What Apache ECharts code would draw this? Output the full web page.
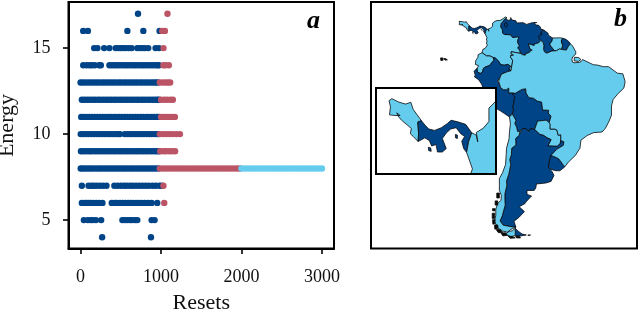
<!DOCTYPE html>
<html><head><meta charset="utf-8">
<style>html,body{margin:0;padding:0;background:#fff}#c{width:640px;height:311px}</style>
<script src="https://cdn.jsdelivr.net/npm/echarts@6/dist/echarts.min.js"></script>
</head><body><div id="c"></div>
<script>
// ---------- Panel a: values ----------
const energies = [4,5,6,7,8,9,10,11,12,13,14,15,16,17];
const xTickValues = [0,1000,2000,3000];
const yTickValues = [5,10,15];

const blueE4  = [268,875];
const blueE5  = [41,91,125,150,190,256,520,552,582,615,644,680,705,883,920];
const blueE6  = [16,50,75,100,128,160,195,230,272,388,425,450,490,520,555,590,620,650,690,725,760,800,840,883,953];
const blueE7  = [16,99,135,165,200,240,280,322,420,460,500,540,575,615,650,690,730,770,810,850,895,935,980,1010];
const blueE8  = [2,30,62,95,128,160,195,228,260,295,328,362,395,430,462,495,530,562,596,630,662,698,730,765,798,832,865,898,932,965];
const blueE9  = [5,35,70,105,135,172,205,240,272,308,340,375,410,442,478,510,545,578,612,645,680,712,748,780,815,848,882,915,948,975];
const blueE10 = [2,32,68,100,135,168,202,235,270,302,338,370,405,438,470,490,550,585,618,650,685,718,752,785,820,852,886,920,950,970];
const blueE11 = [8,38,72,108,140,175,208,242,278,310,345,378,412,445,480,512,548,580,615,648,682,715,750,782,818,850,885,918,950,975];
const blueE12 = [16,48,82,115,150,182,218,250,285,318,352,385,420,452,488,520,555,588,622,655,690,722,758,790,825,858,892,925,955,975];
const blueE13 = [0,30,65,98,132,165,200,232,268,300,335,368,402,435,470,502,538,570,605,638,672,705,740,772,808,840,875,905,935,960];
const blueE14 = [33,75,112,140,175,231,252,359,392,425,455,490,525,558,590,625,660,690,725,760,790,825,858,890,925,955,974];
const blueE15 = [169,210,293,359,437,470,499,530,561,600,635,705,735,767,800,841,932,974];
const blueE16 = [33,91,582,780,982];
const blueE17 = [714];

const redE4 = [], redE5 = [];
const redE6  = [1040];
const redE7  = [1030];
const redE8  = [985,1025,1065,1105,1145,1185,1225,1265,1305,1345,1385,1425,1465,1505,1545,1585,1625,1665,1705,1745,1785,1825,1865,1905,1945,1980];
const redE9  = [990,1030,1060,1100,1135,1175];
const redE10 = [985,1025,1065,1105,1145,1190,1235];
const redE11 = [1000,1035,1070,1105,1140,1172];
const redE12 = [1000,1040,1075,1115,1147];
const redE13 = [985,1020,1055,1085,1114];
const redE14 = [1030,1056,1097];
const redE15 = [1031];
const redE16 = [1015,1048];
const redE17 = [1080];

const cyanE8 = [2000,2040,2080,2120,2160,2200,2240,2280,2320,2360,2400,2440,2480,2520,2560,2600,2640,2680,2720,2760,2800,2840,2880,2920,2960,3000];

const blueRows = [blueE4,blueE5,blueE6,blueE7,blueE8,blueE9,blueE10,blueE11,blueE12,blueE13,blueE14,blueE15,blueE16,blueE17];
const redRows  = [redE4,redE5,redE6,redE7,redE8,redE9,redE10,redE11,redE12,redE13,redE14,redE15,redE16,redE17];

// ---------- Panel b: country groups and outlines (lon, lat) ----------
const darkCountries  = ['Panama','Venezuela','Guyana','French Guiana','Peru','Bolivia','Argentina','Uruguay'];
const lightCountries = ['Costa Rica','Colombia','Ecuador','Suriname','Brazil','Paraguay','Chile'];
const blackIslands   = ['Chilean islands','Galapagos'];

const costaRica = [[[-85.9,11.05],[-85.6,11.2],[-84.9,10.95],[-84.2,10.8],[-83.65,10.93],[-83.4,10.4],[-82.56,9.57],[-82.93,9.47],[-82.85,8.6],[-82.9,8.03],[-83.4,8.4],[-83.7,8.6],[-83.6,9.0],[-84.6,9.6],[-84.9,9.85],[-85.1,10.15],[-84.75,9.95],[-85.3,9.95],[-85.85,10.0],[-85.75,10.6]]];
const panama = [[[-82.56,9.57],[-82.2,9.25],[-81.8,8.95],[-81.2,8.85],[-80.5,9.05],[-79.9,9.35],[-79.5,9.6],[-78.9,9.5],[-78.0,9.3],[-77.37,8.67],[-77.7,8.0],[-77.9,7.22],[-78.2,7.5],[-78.4,8.05],[-78.1,8.4],[-78.5,8.6],[-78.98,9.05],[-79.55,8.95],[-80.0,8.65],[-80.4,8.25],[-80.0,7.5],[-80.4,7.25],[-80.9,7.25],[-81.05,7.8],[-81.5,7.7],[-81.75,8.1],[-82.2,8.3],[-82.9,8.03],[-82.85,8.6],[-82.93,9.47]]];
const coiba = [[[-81.85,7.6],[-81.6,7.55],[-81.55,7.3],[-81.8,7.35]]];
const pearlIslands = [[[-79.05,8.55],[-78.85,8.5],[-78.85,8.25],[-79.05,8.3]]];
const colombia = [[[-77.37,8.67],[-76.9,8.5],[-76.75,8.0],[-76.9,8.7],[-76.2,9.0],[-75.6,9.5],[-75.6,10.5],[-74.85,11.05],[-74.2,11.3],[-73.3,11.3],[-72.3,11.9],[-71.7,12.4],[-71.15,12.15],[-71.33,11.85],[-71.95,11.6],[-72.25,11.1],[-72.9,10.4],[-73.05,9.3],[-72.6,8.6],[-72.45,7.4],[-71.9,7.0],[-70.1,6.95],[-69.4,6.1],[-67.85,6.3],[-67.45,6.2],[-67.8,5.3],[-67.85,4.5],[-67.3,3.5],[-67.85,2.8],[-67.2,2.2],[-67.1,1.2],[-69.85,1.7],[-69.85,1.05],[-69.15,0.65],[-70.05,0.55],[-70,-0.2],[-69.6,-0.55],[-69.4,-1.1],[-69.95,-4.2],[-70.3,-3.8],[-70.7,-3.75],[-70.05,-2.75],[-70.9,-2.2],[-72,-2.45],[-73.1,-2.3],[-73.7,-1.25],[-74.8,-0.2],[-75.3,-0.1],[-75.8,0.1],[-76.4,0.4],[-77.4,0.4],[-78.85,1.4],[-78.55,2.45],[-77.9,2.7],[-77.1,3.85],[-77.5,4.1],[-77.3,5],[-77.5,5.6],[-77.3,6],[-77.9,7.22],[-77.7,8]]];
const venezuela = [[[-71.33,11.85],[-70.9,11.35],[-70.2,11.4],[-70,12.2],[-69.7,11.5],[-68.4,11.2],[-68.2,10.55],[-66.2,10.65],[-65.1,10.1],[-64.3,10.4],[-63,10.7],[-62,10.7],[-62.7,10.4],[-62.3,9.9],[-61.6,9.9],[-60.95,9.4],[-60.7,8.6],[-60,8.5],[-59.8,8.35],[-60.55,7.8],[-60.7,7.4],[-60.3,7.05],[-61.2,6.7],[-61.4,5.95],[-60.75,5.2],[-61.3,4.5],[-62.8,4],[-62.8,3.6],[-64.6,4.15],[-64,2.5],[-63.4,2.2],[-64,1.9],[-64.2,1.5],[-65.35,1.1],[-65.5,0.65],[-66.3,0.75],[-66.9,1.25],[-67.1,1.2],[-67.2,2.2],[-67.85,2.8],[-67.3,3.5],[-67.85,4.5],[-67.8,5.3],[-67.45,6.2],[-67.85,6.3],[-69.4,6.1],[-70.1,6.95],[-71.9,7],[-72.45,7.4],[-72.6,8.6],[-73.05,9.3],[-72.9,10.4],[-72.25,11.1],[-71.95,11.6]],
  [[-71.7,10.6],[-71.2,10.6],[-71,9.6],[-71.6,9.2],[-72,9.9]]];
const guyana = [[[-59.8,8.35],[-58.5,7.35],[-58.45,6.8],[-57.15,5.95],[-57.3,5],[-58,4],[-57.6,3.35],[-56.5,1.95],[-57.3,1.95],[-58.8,1.3],[-59.3,1.35],[-59.65,1.8],[-59.9,2.4],[-59.8,3.6],[-60,4.5],[-60.75,5.2],[-61.4,5.95],[-61.2,6.7],[-60.3,7.05],[-60.7,7.4],[-60.55,7.8]]];
const suriname = [[[-57.15,5.95],[-55.9,5.95],[-55,6],[-54,5.85],[-54.45,5],[-54,3.6],[-54.35,2.4],[-55,2.55],[-56,2],[-56.5,1.95],[-57.6,3.35],[-58,4],[-57.3,5]]];
const frenchGuiana = [[[-54,5.85],[-53,5.5],[-52,4.7],[-51.65,4.15],[-52.35,3.2],[-52.9,2.2],[-54.35,2.4],[-54,3.6],[-54.45,5]]];
const ecuador = [[[-78.85,1.4],[-77.4,0.4],[-76.4,0.4],[-75.8,0.1],[-75.3,-0.1],[-75.2,-0.95],[-76.6,-2.6],[-77.85,-3],[-78.4,-3.4],[-78.7,-4.6],[-79.4,-5],[-80.3,-4.5],[-80.35,-3.4],[-79.85,-2.6],[-80,-2.3],[-80.9,-2.2],[-80.75,-1],[-80.1,0],[-80.05,0.8]]];
const peru = [[[-75.3,-0.1],[-74.8,-0.2],[-73.7,-1.25],[-73.1,-2.3],[-72,-2.45],[-70.9,-2.2],[-70.05,-2.75],[-70.7,-3.75],[-70.3,-3.8],[-69.95,-4.2],[-70.9,-4.4],[-72.85,-5.2],[-73.2,-6],[-74,-7.3],[-73.7,-7.4],[-73.1,-9.4],[-72.2,-10],[-71.3,-10],[-70.6,-9.45],[-70.6,-11],[-69.55,-10.95],[-68.7,-12.5],[-68.95,-12.9],[-69,-14],[-69.4,-15.3],[-69.1,-16.3],[-69.6,-17.3],[-69.5,-17.5],[-70.4,-18.35],[-71.4,-17.7],[-73.2,-16.5],[-75.2,-15.3],[-76.4,-13.9],[-77.15,-12.1],[-78.2,-10.1],[-79,-8.2],[-79.9,-6.9],[-81.2,-6],[-80.9,-5.5],[-81.3,-4.3],[-80.35,-3.4],[-80.3,-4.5],[-79.4,-5],[-78.7,-4.6],[-78.4,-3.4],[-77.85,-3],[-76.6,-2.6],[-75.2,-0.95]]];
const bolivia = [[[-69.5,-17.5],[-69.6,-17.3],[-69.1,-16.3],[-69.4,-15.3],[-69,-14],[-68.95,-12.9],[-68.7,-12.5],[-69.55,-10.95],[-68.6,-11.1],[-66.6,-9.9],[-65.4,-9.7],[-65.3,-11],[-64.4,-12.45],[-63,-12.6],[-61.85,-13.5],[-60.5,-13.8],[-60.2,-16.25],[-58.35,-16.3],[-58.45,-17.2],[-57.6,-18.1],[-58.15,-20.1],[-59.1,-19.35],[-61.75,-19.65],[-62.65,-22.25],[-63.95,-22],[-64.4,-22.8],[-65.2,-22.1],[-66.3,-21.85],[-67.2,-22.8],[-67.9,-22.85],[-68.2,-21.5],[-68.75,-20.4],[-68.4,-19.4],[-69.1,-18.25]]];
const paraguay = [[[-58.15,-20.1],[-57.85,-20.7],[-57.9,-22.1],[-56.4,-22.1],[-55.8,-22.4],[-55.4,-24],[-54.6,-23.85],[-54.6,-25.6],[-54.8,-26.65],[-55.7,-27.4],[-56.4,-27.4],[-58.6,-27.3],[-57.6,-25.35],[-58.8,-24.8],[-60,-24],[-61,-23.8],[-62.65,-22.25],[-61.75,-19.65],[-59.1,-19.35]]];
const argentina = [[[-62.65,-22.25],[-61,-23.8],[-60,-24],[-58.8,-24.8],[-57.6,-25.35],[-58.6,-27.3],[-56.4,-27.4],[-55.7,-27.4],[-54.8,-26.65],[-54.6,-25.6],[-53.65,-26],[-53.8,-27.1],[-55.8,-28.3],[-57.6,-30.2],[-58.1,-32],[-58.4,-33.9],[-58.4,-34.2],[-57.2,-35.3],[-56.7,-36.4],[-57.6,-38.2],[-59.2,-38.7],[-62.1,-39],[-62.3,-40.2],[-62.8,-41],[-65,-41],[-65,-42.2],[-63.6,-42.7],[-65.3,-44.5],[-65.6,-45],[-67.4,-46],[-65.8,-47.5],[-67.5,-49.3],[-69,-50.5],[-68.4,-52.3],[-69.5,-52.2],[-72.3,-51.7],[-73.3,-50.4],[-72.6,-48.8],[-72.3,-47.6],[-71.7,-45.5],[-71.8,-44],[-71.8,-42],[-71.2,-39.5],[-71.3,-38],[-70.6,-36],[-70,-33],[-70.3,-31.5],[-69.8,-30],[-69.7,-28],[-68.4,-27],[-68.5,-25],[-67.4,-24],[-67,-23],[-67.2,-22.8],[-66.3,-21.85],[-65.2,-22.1],[-64.4,-22.8],[-63.95,-22]]];
const argentinaFuego = [[[-68.6,-52.65],[-68.6,-54.9],[-67,-55],[-65.2,-54.7],[-66.5,-54.4],[-67.6,-53.6],[-68.3,-52.9]]];
const estados = [[[-64.7,-54.7],[-63.9,-54.7],[-64.2,-54.9],[-64.7,-54.85]]];
const uruguay = [[[-57.6,-30.2],[-56,-30.85],[-55.2,-31.3],[-53.4,-33.75],[-53.7,-34],[-54.9,-34.95],[-56.2,-34.9],[-57.8,-34.45],[-58.4,-33.9],[-58.1,-32]]];
const brazil = [[[-51.65,4.15],[-51,3.5],[-50,1.7],[-50,1],[-50.9,0.1],[-51.2,-0.6],[-51,-1.5],[-50.5,-1.7],[-49,-1.6],[-48.3,-1.3],[-47.9,-0.7],[-44.6,-2.3],[-43.4,-2.4],[-41.5,-2.9],[-39.9,-2.9],[-37.2,-4.9],[-35.5,-5.1],[-34.8,-7.5],[-35.2,-9.5],[-37,-11.2],[-38.5,-13],[-39,-15],[-39,-17.8],[-39.7,-19.6],[-40.9,-21.9],[-41.9,-23],[-44.5,-23.2],[-46.5,-24.1],[-48.4,-25.5],[-48.7,-28],[-50.2,-30.3],[-52.2,-32.2],[-53.4,-33.75],[-55.2,-31.3],[-56,-30.85],[-57.6,-30.2],[-55.8,-28.3],[-53.8,-27.1],[-53.65,-26],[-54.6,-25.6],[-54.6,-23.85],[-55.4,-24],[-55.8,-22.4],[-56.4,-22.1],[-57.9,-22.1],[-57.85,-20.7],[-58.15,-20.1],[-57.6,-18.1],[-58.45,-17.2],[-58.35,-16.3],[-60.2,-16.25],[-60.5,-13.8],[-61.85,-13.5],[-63,-12.6],[-64.4,-12.45],[-65.3,-11],[-65.4,-9.7],[-66.6,-9.9],[-68.6,-11.1],[-69.55,-10.95],[-70.6,-11],[-70.6,-9.45],[-71.3,-10],[-72.2,-10],[-73.1,-9.4],[-73.7,-7.4],[-74,-7.3],[-73.2,-6],[-72.85,-5.2],[-70.9,-4.4],[-69.95,-4.2],[-69.4,-1.1],[-69.6,-0.55],[-70,-0.2],[-70.05,0.55],[-69.15,0.65],[-69.85,1.05],[-69.85,1.7],[-67.1,1.2],[-66.9,1.25],[-66.3,0.75],[-65.5,0.65],[-65.35,1.1],[-64.2,1.5],[-64,1.9],[-63.4,2.2],[-64,2.5],[-64.6,4.15],[-62.8,3.6],[-62.8,4],[-61.3,4.5],[-60.75,5.2],[-60,4.5],[-59.8,3.6],[-59.9,2.4],[-59.65,1.8],[-59.3,1.35],[-58.8,1.3],[-57.3,1.95],[-56.5,1.95],[-56,2],[-55,2.55],[-54.35,2.4],[-52.9,2.2],[-52.35,3.2]]];
const marajo = [[[-50.4,0],[-49.1,-0.1],[-48.4,-0.7],[-49.2,-1.3],[-50.5,-1.1]]];
const chile = [[[-70.4,-18.35],[-69.5,-17.5],[-69.1,-18.25],[-68.4,-19.4],[-68.75,-20.4],[-68.2,-21.5],[-67.9,-22.85],[-67.2,-22.8],[-67,-23],[-67.4,-24],[-68.5,-25],[-68.4,-27],[-69.7,-28],[-69.8,-30],[-70.3,-31.5],[-70,-33],[-70.6,-36],[-71.3,-38],[-71.2,-39.5],[-71.8,-42],[-71.8,-44],[-71.7,-45.5],[-72.3,-47.6],[-72.6,-48.8],[-73.3,-50.4],[-72.3,-51.7],[-69.5,-52.2],[-68.4,-52.3],[-70,-53],[-71,-53.8],[-72.5,-53.5],[-74,-52.5],[-75,-50.5],[-74.6,-48.7],[-74.6,-46.7],[-74,-45],[-73,-44],[-72.9,-42.5],[-73.5,-41],[-73.5,-39.5],[-73.5,-37.3],[-72.5,-35.5],[-71.6,-33],[-71.4,-30],[-71.3,-28],[-70.5,-25],[-70.4,-23],[-70.1,-20.5]]];
const chileFuego = [[[-68.6,-52.65],[-68.6,-54.9],[-70,-55.2],[-72,-54.5],[-70.5,-53.6],[-69.5,-53.4]]];
const chileIslands = [
  [[[-74.3,-41.8],[-73.5,-41.8],[-73.5,-43.3],[-74.3,-43.3]]],
  [[[-74.8,-44.2],[-74,-44.2],[-74,-45.5],[-74.8,-45.5]]],
  [[[-75.6,-46.6],[-74.8,-46.6],[-74.9,-47.3],[-75.6,-47.2]]],
  [[[-75.7,-48],[-74.9,-48],[-75,-49.6],[-75.7,-49.6]]],
  [[[-75.6,-50],[-74.8,-50],[-74.9,-51.2],[-75.5,-51.4]]],
  [[[-75,-51.6],[-74,-51.6],[-73.9,-52.6],[-74.9,-52.9]]],
  [[[-74.5,-53],[-73.2,-53],[-72.5,-53.9],[-73.8,-54]]],
  [[[-73,-54.1],[-71.6,-54],[-71,-54.8],[-72.4,-55]]],
  [[[-70.8,-55],[-69.4,-55.2],[-68.6,-55.6],[-70.2,-55.7]]],
  [[[-68.5,-55.1],[-67.3,-55.1],[-67,-55.6],[-68.2,-55.6]]]
];
const galapagos = [[[-91.6,-0.2],[-90.9,-0.2],[-90.8,-0.9],[-91.5,-1]]];
const galapagosEast = [[[-90.6,-0.4],[-90.1,-0.4],[-89.5,-0.8],[-90.2,-0.9]]];

const poly = (name, ...polys) => ({type:'Feature',properties:{name},geometry:{type:'MultiPolygon',coordinates:polys}});
const countries = {type:'FeatureCollection',features:[
  poly('Costa Rica',costaRica), poly('Panama',panama,coiba,pearlIslands), poly('Colombia',colombia),
  poly('Venezuela',venezuela), poly('Guyana',guyana), poly('Suriname',suriname), poly('French Guiana',frenchGuiana),
  poly('Ecuador',ecuador), poly('Galapagos',galapagos,galapagosEast), poly('Peru',peru), poly('Bolivia',bolivia), poly('Paraguay',paraguay),
  poly('Argentina',argentina,argentinaFuego,estados), poly('Uruguay',uruguay), poly('Brazil',brazil,marajo),
  poly('Chile',chile,chileFuego), poly('Chilean islands',...chileIslands)
]};

const DARK='#004488', RED='#BB5566', CYAN='#66CCEE', INK='#0a0a0a';
const serif='"Liberation Serif",serif';

echarts.registerMap('southAmerica', countries);
const chart = echarts.init(document.getElementById('c'), null, {renderer:'canvas'});

const regions = darkCountries.map(name=>({name,itemStyle:{areaColor:DARK}}))
  .concat(lightCountries.map(name=>({name,itemStyle:{areaColor:CYAN}})))
  .concat(blackIslands.map(name=>({name,itemStyle:{areaColor:INK}})));
const geoBase = {map:'southAmerica',silent:true,roam:false,regions,clip:true,
  label:{show:false},
  itemStyle:{areaColor:CYAN,borderColor:INK,borderWidth:0.8},
  emphasis:{disabled:true},select:{disabled:true}};

const toPoints = rows => rows.flatMap((row,i)=>row.map(x=>[x,energies[i]]));
const scatter = (data,color) => ({type:'scatter',xAxisIndex:0,yAxisIndex:0,data,symbol:'circle',symbolSize:6.4,
  itemStyle:{color,opacity:1},silent:true,animation:false});

chart.setOption({
  animation:false,
  grid:{left:68.5,top:2.5,width:265.5,height:246,show:false,outerBoundsMode:'none'},
  xAxis:{type:'value',min:-150,max:3150,name:'Resets',nameLocation:'middle',nameGap:44,
    nameTextStyle:{fontFamily:serif,fontSize:22,color:'#111'},
    axisLine:{show:true,onZero:false,lineStyle:{color:'#000',width:2}},
    axisTick:{show:true,length:5.5,customValues:xTickValues,lineStyle:{color:'#000',width:1.6}},
    axisLabel:{fontFamily:serif,fontSize:18,color:'#111',margin:20,customValues:xTickValues,hideOverlap:false,showMinLabel:true,showMaxLabel:true,formatter:v=>String(v)},
    splitLine:{show:false}},
  yAxis:{type:'value',min:3.35,max:17.65,name:'Energy',nameLocation:'middle',nameGap:50,nameRotate:90,
    nameTextStyle:{fontFamily:serif,fontSize:22,color:'#111'},
    axisLine:{show:true,onZero:false,lineStyle:{color:'#000',width:2}},
    axisTick:{show:true,length:5.5,customValues:yTickValues,lineStyle:{color:'#000',width:1.6}},
    axisLabel:{fontFamily:serif,fontSize:18,color:'#111',margin:18,customValues:yTickValues,formatter:v=>String(v)},
    splitLine:{show:false}},
  geo:[
    Object.assign({},geoBase,{z:1,left:371,top:2,width:266,height:246,aspectScale:1,
      boundingCoords:[[-113,17],[-31.15,-58.7]]}),
    Object.assign({},geoBase,{z:10,left:376,top:88,width:120,height:86,aspectScale:0.7186,
      boundingCoords:[[-87.24,11.99],[-74.87,5.62]]})
  ],
  series:[scatter(toPoints(blueRows),DARK),scatter(toPoints(redRows),RED),
    scatter(cyanE8.map(x=>[x,8]),CYAN)],
  graphic:[
    {type:'rect',z:0,silent:true,shape:{x:68.5,y:2,width:265.5,height:246.5},style:{fill:'none',stroke:'#000',lineWidth:2}},
    {type:'rect',z:20,silent:true,shape:{x:371,y:2,width:266,height:246.5},style:{fill:'none',stroke:'#000',lineWidth:2}},
    {type:'rect',z:5,silent:true,shape:{x:376,y:88,width:120,height:86},style:{fill:'#fff',stroke:'none'}},
    {type:'rect',z:20,silent:true,shape:{x:376,y:88,width:120,height:86},style:{fill:'none',stroke:'#000',lineWidth:2}},
    {type:'text',z:20,silent:true,x:307,y:8,style:{text:'a',font:'italic bold 26px "Liberation Serif",serif',fill:'#000'}},
    {type:'text',z:20,silent:true,x:614,y:6,style:{text:'b',font:'italic bold 26px "Liberation Serif",serif',fill:'#000'}}
  ]
});
</script></body></html>
